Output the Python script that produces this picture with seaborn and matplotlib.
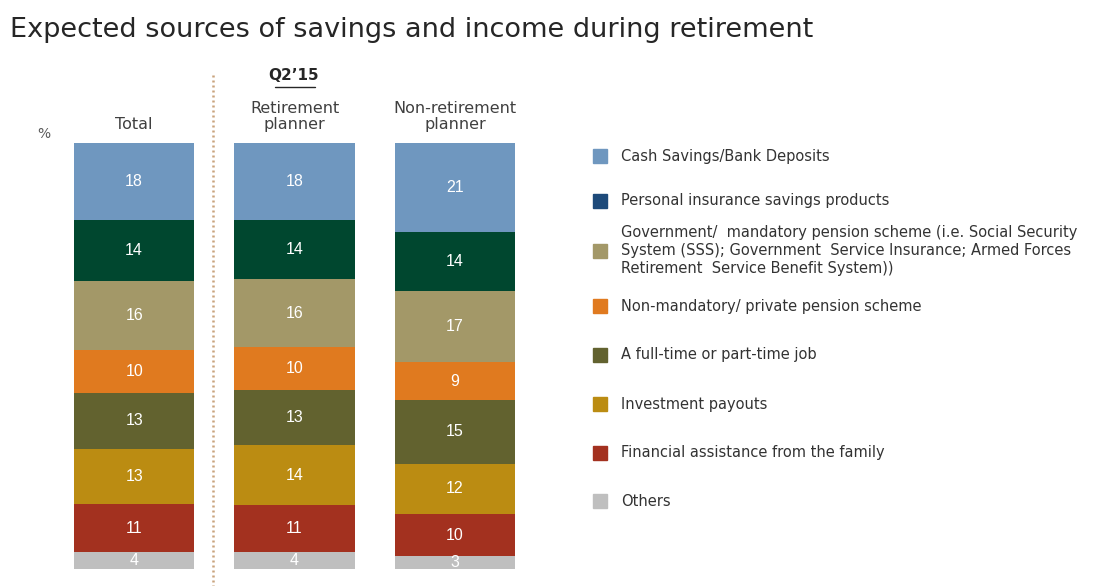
import matplotlib
matplotlib.use("Agg")
import matplotlib.pyplot as plt
import seaborn as sns
import pandas as pd
import numpy as np
from matplotlib.patches import Rectangle

sns.set_theme(style="white")
plt.rcParams['font.family'] = ['DejaVu Sans']

groups = ["Total", "Retirement\nplanner", "Non-retirement\nplanner"]
series = ["Cash Savings/Bank Deposits",
          "Personal insurance savings products",
          "Government/  mandatory pension scheme (i.e. Social Security\nSystem (SSS); Government  Service Insurance; Armed Forces\nRetirement  Service Benefit System))",
          "Non-mandatory/ private pension scheme",
          "A full-time or part-time job",
          "Investment payouts",
          "Financial assistance from the family",
          "Others"]
cash = [18, 18, 21]
insurance = [14, 14, 14]
government = [16, 16, 17]
non_mandatory = [10, 10, 9]
job = [13, 13, 15]
investment = [13, 14, 12]
family = [11, 11, 10]
others = [4, 4, 3]

values = [cash, insurance, government, non_mandatory, job, investment, family, others]
bar_colors = ["#6F97BF", "#00472F", "#A39868", "#E07A1F", "#62622F", "#BB8C12", "#A3311F", "#BFBFBF"]
legend_colors = ["#6F97BF", "#1D4A7A", "#A39868", "#E07A1F", "#62622F", "#BB8C12", "#A3311F", "#BFBFBF"]

W, H = 1106, 586
fig = plt.figure(figsize=(W / 100, H / 100), dpi=100)
ax = fig.add_axes([54 / W, 1 - 569 / H, 481 / W, (569 - 143) / H])

vals = np.array(values, dtype=float)
totals = vals.sum(axis=0)
shares = vals / totals * 100  # each bar drawn as 100% stacked

stack_order = list(range(len(series)))[::-1]  # bottom to top indices
cum = np.zeros(3)
bottoms = {}
for i in stack_order:
    bottoms[i] = cum.copy()
    cum = cum + shares[i]

for i in range(len(series)):  # top series first (largest cumulative)
    tops = bottoms[i] + shares[i]
    df = pd.DataFrame({"group": groups, "v": tops})
    sns.barplot(data=df, x="group", y="v", color=bar_colors[i], saturation=1,
                width=0.75, ax=ax, linewidth=0)
    for j in range(3):
        ax.text(j, bottoms[i][j] + shares[i][j] / 2, str(values[i][j]),
                ha="center", va="center", color="white", fontsize=11.5,
                family="Liberation Sans")

ax.set_xlim(-0.5, 2.5)
ax.set_ylim(0, 100)
ax.axis("off")

# header texts
for j, g in enumerate(groups):
    xc = (54 + 80 + 160.5 * j) / W
    fig.text(xc, 1 - 132 / H, g, ha="center", va="bottom", fontsize=11.5,
             color="#404040", linespacing=1.05)
fig.text(294 / W, 1 - 83 / H, "Q2’15", ha="center", va="bottom", fontsize=11,
         fontweight="bold", color="#262626")
fig.add_artist(plt.Line2D([275 / W, 315 / W], [1 - 87 / H, 1 - 87 / H],
                          color="#262626", lw=1))
fig.text(44 / W, 1 - 134 / H, "%", ha="center", va="center", fontsize=10,
         color="#595959")

# dotted separator
fig.add_artist(plt.Line2D([213 / W, 213 / W], [1 - 75 / H, 0], color="#C9A27C",
                          lw=1.8, linestyle=(0, (0.8, 1.2))))

# title
fig.text(10 / W, 1 - 30 / H, "Expected sources of savings and income during retirement",
         ha="left", va="center", fontsize=19.5, color="#262626")

# legend
leg_y = [156, 201, 251, 306, 355, 404, 453, 501]
for i, s in enumerate(series):
    y = leg_y[i]
    fig.add_artist(Rectangle((593 / W, 1 - (y + 7) / H), 14 / W, 14 / H,
                             color=legend_colors[i], transform=fig.transFigure))
    fig.text(621 / W, 1 - y / H, s, ha="left", va="center", fontsize=10.5,
             color="#333333", linespacing=1.25)

fig.savefig("out.png", dpi=100, facecolor="white")
